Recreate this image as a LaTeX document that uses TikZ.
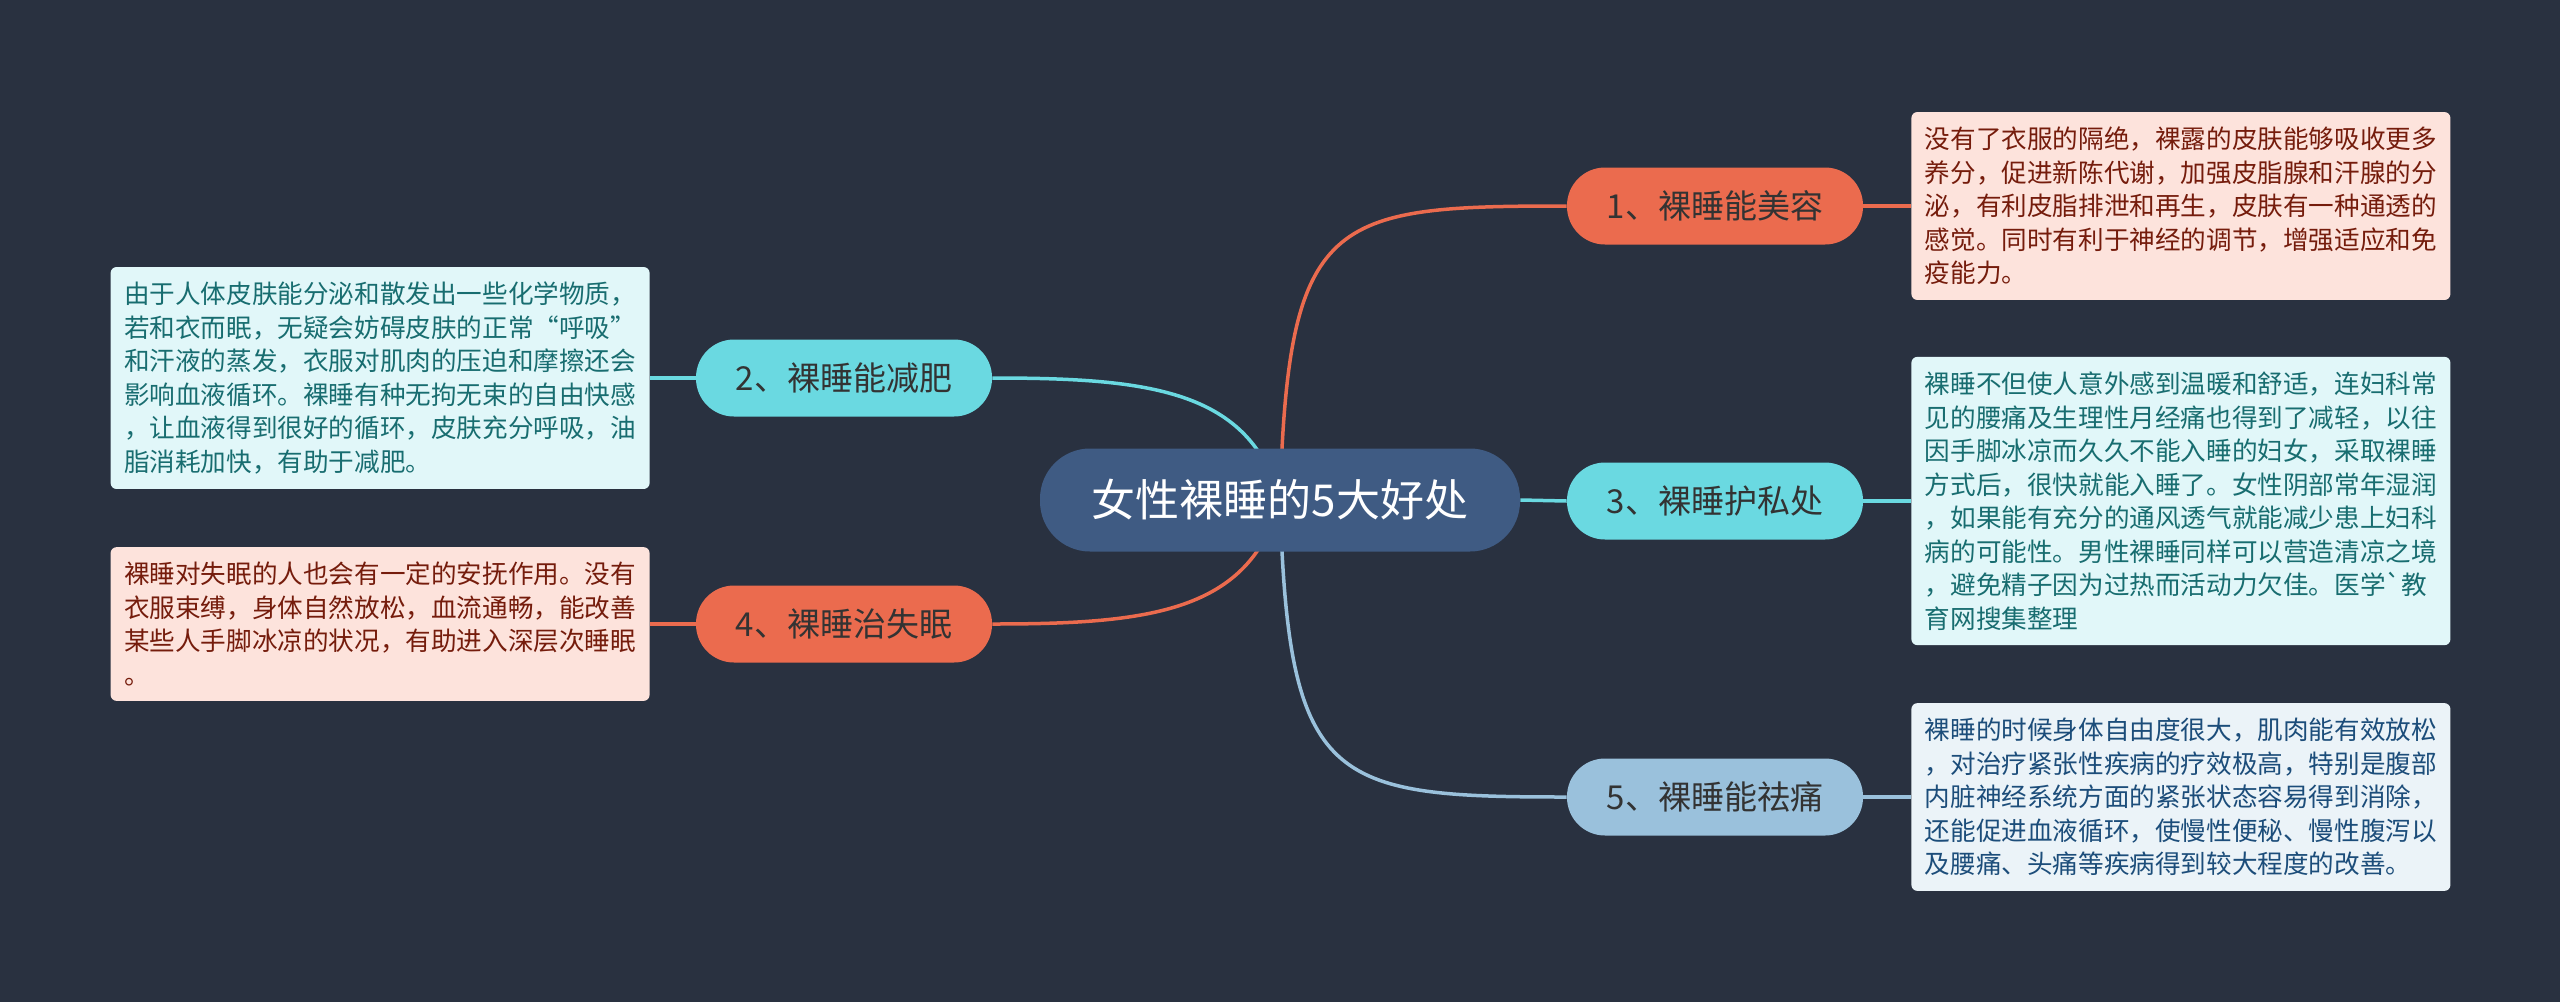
\documentclass[tikz,border=0pt]{standalone}
\usepackage{fontspec}
\setmainfont{Noto Sans CJK SC}[Ligatures=TeXOff]

\definecolor{bgdark}{HTML}{293140}
\definecolor{rootblue}{HTML}{3F5B83}
\definecolor{redtopic}{HTML}{EB6B4E}
\definecolor{cyantopic}{HTML}{6AD9E1}
\definecolor{bluetopic}{HTML}{9AC1DC}
\definecolor{rednote}{HTML}{FDE3DC}
\definecolor{cyannote}{HTML}{E1F7F9}
\definecolor{bluenote}{HTML}{EBF3F8}
\definecolor{redtext}{HTML}{751C0C}
\definecolor{cyantext}{HTML}{186D70}
\definecolor{bluetext}{HTML}{1C4D7A}

\pgfdeclarelayer{bg}
\pgfdeclarelayer{edges}
\pgfsetlayers{bg,edges,main}

\begin{document}
\begin{tikzpicture}[x=0.5pt, y=-0.5pt,
  root/.style={rounded corners=25pt, minimum width=240pt, minimum height=51.5pt,
    fill=rootblue, text=white, font=\fontsize{22}{26}\selectfont},
  topic/.style={rounded corners=19pt, minimum width=148pt, minimum height=38.5pt,
    text=black!80, font=\fontsize{16.5}{20}\selectfont},
  note/.style={rounded corners=3pt, text width=256pt, align=left,
    inner xsep=6.75pt, inner ysep=7.5pt, font=\fontsize{12.8}{16.75}\selectfont},
  link/.style={line width=1.75pt}
]
  % Background
  \begin{pgfonlayer}{bg}
    \fill[bgdark] (0,0) rectangle (2560,1002);
  \end{pgfonlayer}

  % Central topic
  \node[root] (main) at (1280,500) {女性裸睡的5大好处};

  % Benefits
  \node[topic, fill=redtopic] (n1) at (1715,206) {1、裸睡能美容};
  \node[topic, fill=cyantopic] (n2) at (844,378) {2、裸睡能减肥};
  \node[topic, fill=cyantopic] (n3) at (1715,501) {3、裸睡护私处};
  \node[topic, fill=redtopic] (n4) at (844,624) {4、裸睡治失眠};
  \node[topic, fill=bluetopic] (n5) at (1715,797) {5、裸睡能祛痛};

  % Details
  \node[note, anchor=west, fill=rednote, text=redtext] (d1) at (1911,206) {%
    没有了衣服的隔绝，裸露的皮肤能够吸收更多\\
    养分，促进新陈代谢，加强皮脂腺和汗腺的分\\
    泌，有利皮脂排泄和再生，皮肤有一种通透的\\
    感觉。同时有利于神经的调节，增强适应和免\\
    疫能力。};
  \node[note, anchor=east, fill=cyannote, text=cyantext] (d2) at (650,378) {%
    由于人体皮肤能分泌和散发出一些化学物质，\\
    若和衣而眠，无疑会妨碍皮肤的正常“呼吸”\\
    和汗液的蒸发，衣服对肌肉的压迫和摩擦还会\\
    影响血液循环。裸睡有种无拘无束的自由快感\\
    ，让血液得到很好的循环，皮肤充分呼吸，油\\
    脂消耗加快，有助于减肥。};
  \node[note, anchor=west, fill=cyannote, text=cyantext] (d3) at (1911,501) {%
    裸睡不但使人意外感到温暖和舒适，连妇科常\\
    见的腰痛及生理性月经痛也得到了减轻，以往\\
    因手脚冰凉而久久不能入睡的妇女，采取裸睡\\
    方式后，很快就能入睡了。女性阴部常年湿润\\
    ，如果能有充分的通风透气就能减少患上妇科\\
    病的可能性。男性裸睡同样可以营造清凉之境\\
    ，避免精子因为过热而活动力欠佳。医学`教\\
    育网搜集整理};
  \node[note, anchor=east, fill=rednote, text=redtext] (d4) at (650,624) {%
    裸睡对失眠的人也会有一定的安抚作用。没有\\
    衣服束缚，身体自然放松，血流通畅，能改善\\
    某些人手脚冰凉的状况，有助进入深层次睡眠\\
    。};
  \node[note, anchor=west, fill=bluenote, text=bluetext] (d5) at (1911,797) {%
    裸睡的时候身体自由度很大，肌肉能有效放松\\
    ，对治疗紧张性疾病的疗效极高，特别是腹部\\
    内脏神经系统方面的紧张状态容易得到消除，\\
    还能促进血液循环，使慢性便秘、慢性腹泻以\\
    及腰痛、头痛等疾病得到较大程度的改善。};

  % Connectors
  \begin{pgfonlayer}{edges}
    \draw[link, redtopic] (main.center) .. controls (1288,215) and (1330,206) .. (n1.west);
    \draw[link, cyantopic] (main.center) .. controls (1250,390) and (1150,378) .. (n2.east);
    \draw[link, cyantopic] (main.east) -- (n3.west);
    \draw[link, redtopic] (main.center) .. controls (1250,612) and (1150,624) .. (n4.east);
    \draw[link, bluetopic] (main.center) .. controls (1288,785) and (1330,797) .. (n5.west);
    \draw[link, redtopic] (n1.east) -- (d1.west);
    \draw[link, cyantopic] (d2.east) -- (n2.west);
    \draw[link, cyantopic] (n3.east) -- (d3.west);
    \draw[link, redtopic] (d4.east) -- (n4.west);
    \draw[link, bluetopic] (n5.east) -- (d5.west);
  \end{pgfonlayer}
\end{tikzpicture}
\end{document}
